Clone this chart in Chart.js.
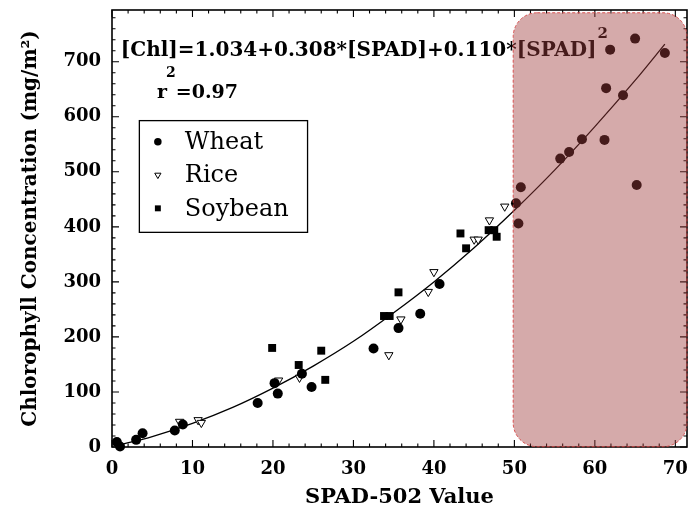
<!DOCTYPE html>
<html>
<head>
<meta charset="utf-8">
<style>
  html, body { margin: 0; padding: 0; background: #ffffff; }
  #wrap { width: 688px; height: 508px; }
</style>
<script src="https://cdn.jsdelivr.net/npm/chart.js@4.4.1/dist/chart.umd.min.js"></script>
</head>
<body>
<div id="wrap"><canvas id="c" width="688" height="508"></canvas></div>
<script>
// SPAD-502 readings and measured chlorophyll concentration (mg/m²) for each crop
const wheatSpad = [0.6, 1.0, 3.0, 3.8, 7.8, 8.8, 18.1, 20.2, 20.6, 23.6, 24.8, 32.5, 35.6, 38.3, 40.7,
                   50.2, 50.5, 50.8, 55.7, 56.8, 58.4, 61.2, 61.4, 61.9, 63.5, 65.0, 65.2, 68.7];
const wheatChl  = [9, 1, 13, 25, 30, 41, 80, 116, 97, 133, 109, 179, 216, 242, 296,
                   443, 406, 472, 524, 536, 559, 558, 652, 722, 639, 742, 476, 716];

const riceSpad = [8.4, 10.7, 11.1, 20.7, 23.3, 34.4, 35.9, 39.3, 40.0, 45.0, 45.5, 46.9, 48.8];
const riceChl  = [46, 49, 44, 121, 126, 167, 232, 282, 318, 377, 377, 412, 437];

const soySpad = [19.9, 23.2, 26.0, 26.5, 33.8, 34.5, 35.6, 43.3, 44.0, 46.8, 47.5, 47.8];
const soyChl  = [180, 149, 175, 122, 238, 238, 281, 388, 361, 394, 394, 382];

// regression curve, sampled along the SPAD range
const fitSpad = [1.0, 5, 10, 15, 20, 25, 30, 35, 40, 45, 50, 55, 60, 65, 68.7];
const fitChl  = [4, 19, 43, 72, 107, 147, 192, 244, 300, 362, 430, 503, 582, 666, 732];

// axis tick values
const xTicks = [0, 10, 20, 30, 40, 50, 60, 70];
const yTicks = [0, 100, 200, 300, 400, 500, 600, 700];

// shaded high-SPAD region (SPAD range, chlorophyll range)
const highlightSpad = [49.85, 71.45];
const highlightChl  = [0.5, 789];

const seriesNames = ['Wheat', 'Rice', 'Soybean'];

const SERIF = '"DejaVu Serif", "Liberation Serif", serif';

const toPoints = (xs, ys) => xs.map((x, i) => ({ x: x, y: ys[i] }));

// keep the plot area flush with the fixed axis sizes
const fixScale = (size) => (s) => {
  if (s.isHorizontal()) s.height = size; else s.width = size;
  s.paddingTop = 0; s.paddingBottom = 0; s.paddingLeft = 0; s.paddingRight = 0;
};

// frame with inward major/minor ticks on all four sides
const framePlugin = {
  id: 'frame',
  afterDatasetsDraw(chart) {
    const { ctx, chartArea: a, scales: { x, y } } = chart;
    ctx.save();
    ctx.strokeStyle = '#000';
    ctx.lineWidth = 1.6;
    ctx.strokeRect(a.left, a.top, a.right - a.left, a.bottom - a.top);
    ctx.lineWidth = 1.1;
    ctx.beginPath();
    const major = 7, minor = 3.5;
    for (let v = 0; v <= x.max; v += 2) {
      const px = x.getPixelForValue(v);
      const len = (v % 10 === 0) ? major : minor;
      ctx.moveTo(px, a.bottom); ctx.lineTo(px, a.bottom - len);
      ctx.moveTo(px, a.top); ctx.lineTo(px, a.top + len);
    }
    for (let v = 0; v <= y.max; v += 20) {
      const py = y.getPixelForValue(v);
      const len = (v % 100 === 0) ? major : minor;
      ctx.moveTo(a.left, py); ctx.lineTo(a.left + len, py);
      ctx.moveTo(a.right, py); ctx.lineTo(a.right - len, py);
    }
    ctx.stroke();
    ctx.restore();
  }
};

// regression equation and r² written inside the plot
const equationPlugin = {
  id: 'equation',
  afterDatasetsDraw(chart) {
    const { ctx, scales: { x, y } } = chart;
    ctx.save();
    ctx.fillStyle = '#000';
    ctx.textBaseline = 'alphabetic';
    ctx.textAlign = 'left';

    const eq = '[Chl]=1.034+0.308*[SPAD]+0.110*[SPAD]';
    const ex = x.getPixelForValue(1.1);
    const ey = y.getPixelForValue(711);
    ctx.font = 'bold 20px ' + SERIF;
    ctx.fillText(eq, ex, ey);
    const w = ctx.measureText(eq).width;
    ctx.font = 'bold 15px ' + SERIF;
    ctx.fillText('2', ex + w + 1, ey - 18);

    const rx = x.getPixelForValue(5.6);
    const ry = y.getPixelForValue(635);
    ctx.font = 'bold 19px ' + SERIF;
    ctx.fillText('r', rx, ry);
    const rw = ctx.measureText('r').width;
    ctx.font = 'bold 14px ' + SERIF;
    ctx.fillText('2', rx + rw - 1, ry - 21);
    const sw = ctx.measureText('2').width;
    ctx.font = 'bold 19px ' + SERIF;
    ctx.fillText('=0.97', rx + rw - 1 + sw, ry);
    ctx.restore();
  }
};

// translucent rounded box over the high-SPAD region
const highlightPlugin = {
  id: 'highlight',
  afterDatasetsDraw(chart) {
    const { ctx, scales: { x, y } } = chart;
    const x0 = x.getPixelForValue(highlightSpad[0]);
    const x1 = x.getPixelForValue(highlightSpad[1]);
    const y0 = y.getPixelForValue(highlightChl[1]);
    const y1 = y.getPixelForValue(highlightChl[0]);
    ctx.save();
    ctx.beginPath();
    ctx.roundRect(x0, y0, x1 - x0, y1 - y0, 24);
    ctx.fillStyle = 'rgba(160, 62, 62, 0.44)';
    ctx.fill();
    ctx.setLineDash([3, 2]);
    ctx.lineWidth = 1;
    ctx.strokeStyle = 'rgba(215, 70, 70, 0.9)';
    ctx.stroke();
    ctx.restore();
  }
};

// boxed legend in the upper-left of the plot
const legendPlugin = {
  id: 'boxLegend',
  afterDatasetsDraw(chart) {
    const { ctx, scales: { x, y } } = chart;
    const left = x.getPixelForValue(3.4), right = x.getPixelForValue(24.3);
    const top = y.getPixelForValue(593), bottom = y.getPixelForValue(390);
    ctx.save();
    ctx.fillStyle = '#fff';
    ctx.fillRect(left, top, right - left, bottom - top);
    ctx.strokeStyle = '#000';
    ctx.lineWidth = 1.3;
    ctx.strokeRect(left, top, right - left, bottom - top);
    const rowH = (bottom - top) / 3.35;
    const markerX = left + 18.5;
    const textX = left + 45.5;
    ctx.font = '24px ' + SERIF;
    ctx.textBaseline = 'middle';
    ctx.textAlign = 'left';
    seriesNames.forEach((name, i) => {
      const ds = chart.data.datasets[i];
      const cy = top + rowH * (0.63 + i);
      ctx.fillStyle = ds.backgroundColor;
      ctx.strokeStyle = ds.borderColor;
      ctx.lineWidth = ds.borderWidth;
      Chart.helpers.drawPoint(ctx, {
        pointStyle: ds.pointStyle,
        rotation: ds.rotation || 0,
        radius: ds.pointRadius * 0.75,
        borderWidth: ds.borderWidth
      }, markerX, cy);
      ctx.fillStyle = '#000';
      ctx.fillText(name, textX, cy + 1);
    });
    ctx.restore();
  }
};

const tickFont = { family: SERIF, size: 18, weight: 'bold' };

new Chart(document.getElementById('c'), {
  type: 'scatter',
  data: {
    datasets: [
      {
        label: seriesNames[0],
        data: toPoints(wheatSpad, wheatChl),
        pointStyle: 'circle',
        pointRadius: 5,
        backgroundColor: '#000',
        borderColor: '#000',
        borderWidth: 0,
        clip: false,
        order: 1
      },
      {
        label: seriesNames[1],
        data: toPoints(riceSpad, riceChl),
        pointStyle: 'triangle',
        rotation: 180,
        pointRotation: 180,
        pointRadius: 4.8,
        backgroundColor: '#fff',
        borderColor: '#000',
        borderWidth: 1,
        clip: false,
        order: 2
      },
      {
        label: seriesNames[2],
        data: toPoints(soySpad, soyChl),
        pointStyle: 'rect',
        pointRadius: 5.6,
        backgroundColor: '#000',
        borderColor: '#000',
        borderWidth: 0,
        clip: false,
        order: 3
      },
      {
        label: 'fit',
        data: toPoints(fitSpad, fitChl),
        showLine: true,
        pointRadius: 0,
        borderColor: '#000',
        borderWidth: 1.3,
        cubicInterpolationMode: 'monotone',
        fill: false,
        order: 10
      }
    ]
  },
  options: {
    responsive: false,
    animation: false,
    devicePixelRatio: 1,
    layout: { autoPadding: false, padding: { top: 10, right: 1, left: 0, bottom: 0 } },
    plugins: {
      legend: { display: false },
      tooltip: { enabled: false }
    },
    scales: {
      x: {
        type: 'linear',
        min: 0,
        max: highlightSpad[1],
        afterBuildTicks: (s) => { s.ticks = xTicks.map(v => ({ value: v })); },
        afterFit: fixScale(61),
        grid: { display: false, drawTicks: false },
        border: { display: false },
        ticks: { font: tickFont, color: '#000', padding: 12 },
        title: {
          display: true,
          text: 'SPAD-502 Value',
          color: '#000',
          font: { family: SERIF, size: 21, weight: 'bold', lineHeight: 1 },
          padding: { top: 0, bottom: 0 }
        }
      },
      y: {
        type: 'linear',
        min: 0,
        max: highlightChl[1] + 5,
        afterBuildTicks: (s) => { s.ticks = yTicks.map(v => ({ value: v })); },
        afterFit: fixScale(112),
        grid: { display: false, drawTicks: false },
        border: { display: false },
        ticks: { font: tickFont, color: '#000', padding: 11 },
        title: {
          display: true,
          text: 'Chlorophyll Concentration (mg/m²)',
          color: '#000',
          font: { family: SERIF, size: 20, weight: 'bold', lineHeight: 1 },
          padding: { top: 21, bottom: 0 }
        }
      }
    }
  },
  plugins: [framePlugin, equationPlugin, highlightPlugin, legendPlugin]
});
</script>
</body>
</html>
